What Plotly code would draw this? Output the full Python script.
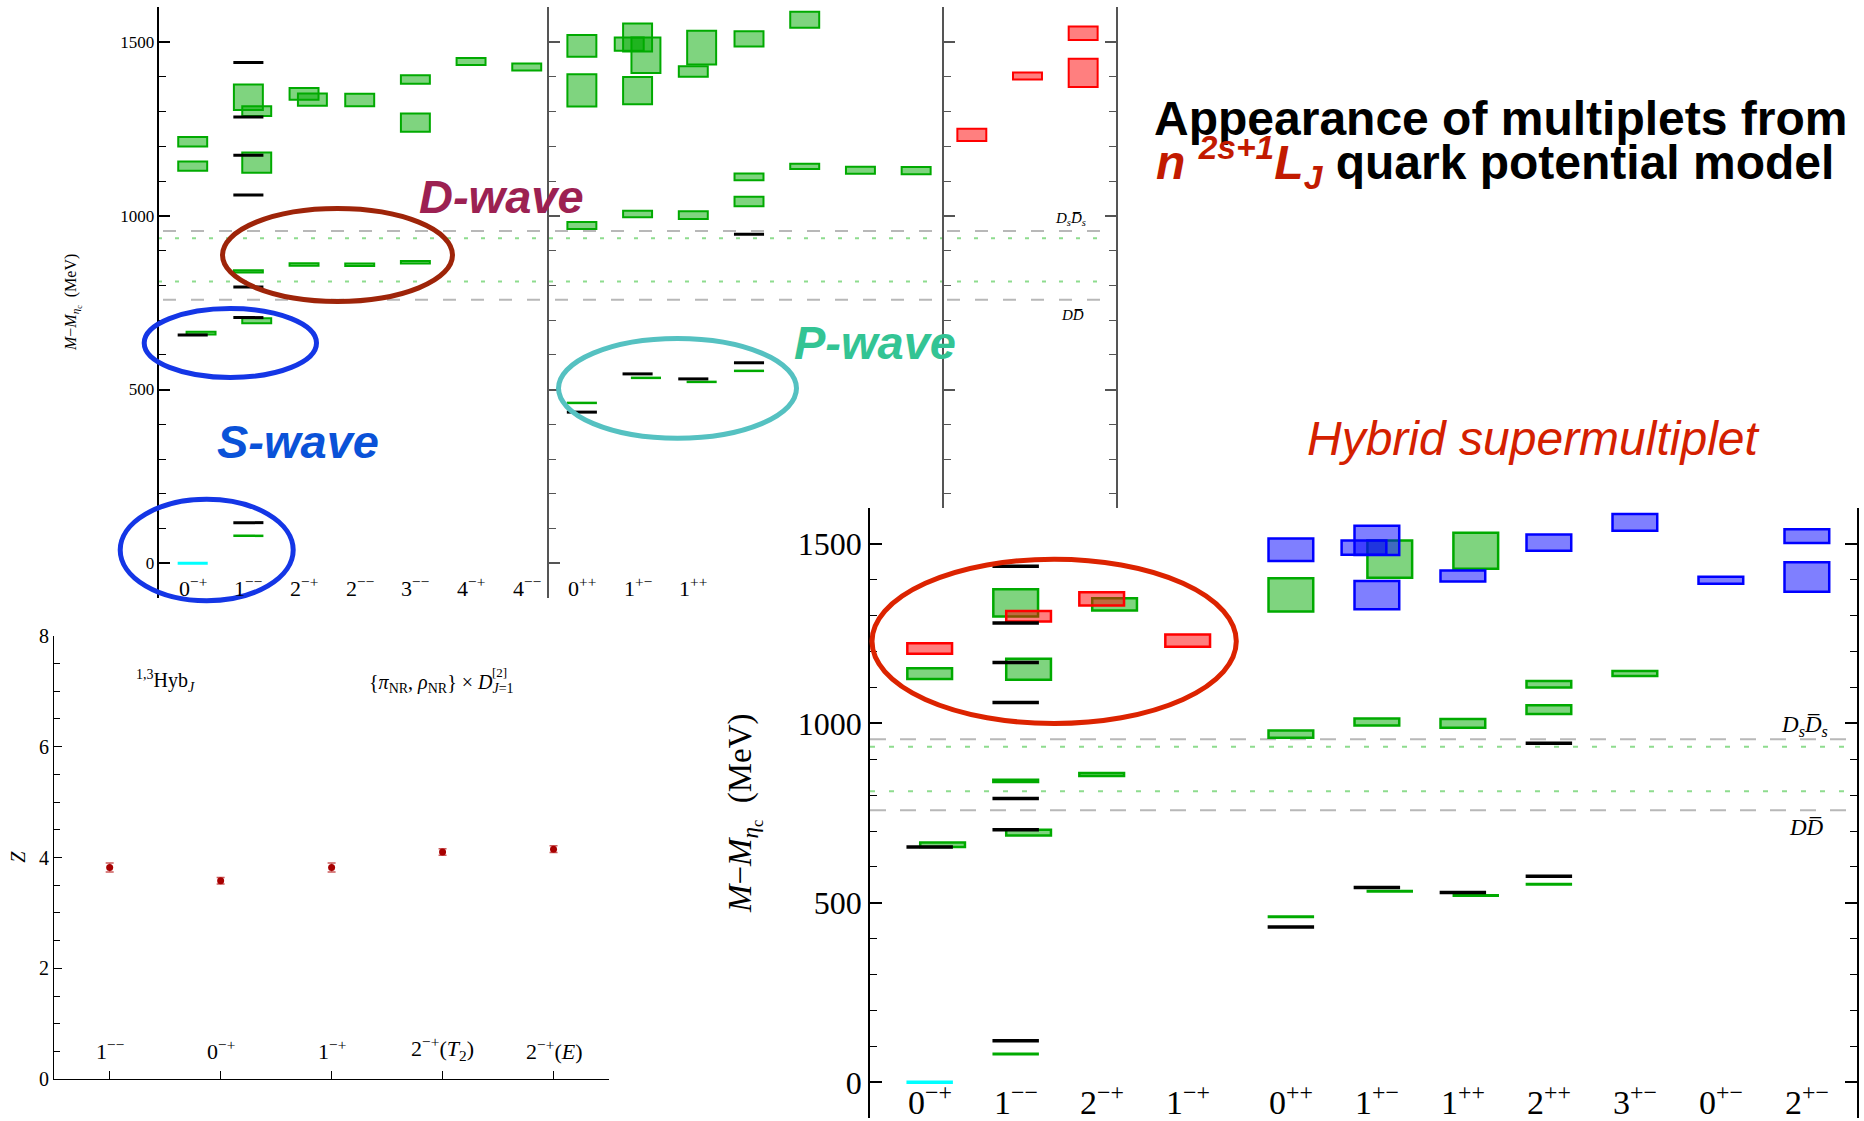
import plotly.graph_objects as go

W, H = 1864, 1121
SERIF = "Liberation Serif, Times New Roman, serif"
SANS = "Liberation Sans, Arial, sans-serif"

# ---------------- data (masses in MeV relative to eta_c) ----------------
# top-left panel: conventional negative-parity charmonium
negp_cats = ["0<sup>−+</sup>", "1<sup>−−</sup>", "2<sup>−+</sup>", "2<sup>−−</sup>",
             "3<sup>−−</sup>", "4<sup>−+</sup>", "4<sup>−−</sup>"]
negp_box_pos = [1, 1, 1.15, 2, 2.15, 2.15, 2, 2.15, 3, 3.15, 3, 4, 4, 5, 5, 5, 6, 7]
negp_box_mass = [1213, 1143, 662, 1341, 1301, 1153, 840, 698, 1351, 1334, 860,
                 1333, 859, 1392, 1268, 866, 1444, 1428]
negp_box_err = [13.5, 13.5, 4, 37, 14, 29, 3, 7, 17, 17.5, 3.5,
                18, 3.5, 12, 26.5, 3.5, 10, 10]
negp_line_pos = [2]
negp_line_mass = [79]
negp_exp_pos = [1, 2, 2, 2, 2, 2, 2, 2]
negp_exp_mass = [657, 1441, 1284, 1174, 1060, 795, 707, 117]
negp_ref_pos = [1]
negp_ref_mass = [0]

# top-middle panel: positive-parity charmonium
posp_cats = ["0<sup>++</sup>", "1<sup>+−</sup>", "1<sup>++</sup>"]
posp_box_pos = [1, 1, 1, 2, 1.85, 2.15, 2, 2, 3.15, 3, 3, 4, 4, 4, 5, 5, 6, 7]
posp_box_mass = [1489, 1361, 972, 1513, 1494, 1462, 1360, 1005, 1484, 1415, 1002,
                 1509, 1112, 1041, 1564, 1142, 1131, 1130]
posp_box_err = [31.5, 46.5, 10, 40.5, 19, 51, 39, 9.5, 48.5, 15, 11,
                22, 9.5, 13.5, 23, 7.5, 10, 10.5]
posp_line_pos = [1, 2.15, 3.15, 4]
posp_line_mass = [461.5, 533.6, 522, 553.7]
posp_exp_pos = [1, 2, 3, 4, 4]
posp_exp_mass = [435, 545, 530.6, 947, 577]

# top-right panel: exotic quantum numbers
exo_box_pos = [1, 2, 3, 3]
exo_box_mass = [1233, 1402, 1525, 1411]
exo_box_err = [17.5, 10, 19.5, 40.5]

# open-charm thresholds
thr_open = [956, 758]          # Ds Ds-bar, D D-bar
thr_model = [935, 811]

# bottom-right panel: full spectrum with hybrid supermultiplet
hyb_cats = ["0<sup>−+</sup>", "1<sup>−−</sup>", "2<sup>−+</sup>", "1<sup>−+</sup>",
            "0<sup>++</sup>", "1<sup>+−</sup>", "1<sup>++</sup>", "2<sup>++</sup>",
            "3<sup>+−</sup>", "0<sup>+−</sup>", "2<sup>+−</sup>"]
hyb_cat_pos = [1, 2, 3, 4, 5.2, 6.2, 7.2, 8.2, 9.2, 10.2, 11.2]

hyb_green_cat = [0, 0, 1, 1, 1, 1, 2, 2, 4, 4, 5, 5, 6, 6, 7, 7, 8]
hyb_green_shift = [0, .15, 0, .15, 0, .15, .15, 0, 0, 0, .15, 0, .15, 0, 0, 0, 0]
hyb_green_mass = [1139, 662, 1336, 1151, 840, 696, 1332, 857.6, 1358, 970,
                  1458, 1004, 1481, 1000, 1109, 1038.5, 1139]
hyb_green_err = [15, 6, 38, 29, 3, 8, 17, 4, 46.4, 10, 52, 10, 50, 12, 9, 12.5, 7]

hyb_gline_cat = [1, 4, 5, 6, 7]
hyb_gline_shift = [0, 0, .15, .15, 0]
hyb_gline_mass = [79, 461, 532.4, 520.4, 552]

hyb_red_cat = [0, 1, 2, 3]
hyb_red_shift = [0, .15, 0, 0]
hyb_red_mass = [1209, 1298.5, 1347, 1231]
hyb_red_err = [14.7, 14.5, 18.5, 17]

hyb_blue_cat = [4, 5, 5, 5, 6, 7, 8, 9, 10, 10]
hyb_blue_shift = [0, 0, -.15, 0, 0, 0, 0, 0, 0, 0]
hyb_blue_mass = [1484, 1510, 1490, 1357.5, 1411, 1504, 1560, 1399, 1522, 1408]
hyb_blue_err = [31.5, 40.7, 20, 39.5, 15.3, 22.6, 23.3, 10, 19, 41]

hyb_exp_cat = [0, 1, 1, 1, 1, 1, 1, 1, 4, 5, 6, 7, 7]
hyb_exp_mass = [656, 1438, 1280, 1170, 1058, 791, 704, 116, 433, 542.6, 528.8, 945, 574]
hyb_ref_cat = [0]
hyb_ref_mass = [0]

mass_ticks = [0, 500, 1000, 1500]

# bottom-left panel: operator overlaps
z_cats = ["1<sup>−−</sup>", "0<sup>−+</sup>", "1<sup>−+</sup>",
          "2<sup>−+</sup>(<i>T</i><sub>2</sub>)", "2<sup>−+</sup>(<i>E</i>)"]
z_vals = [3.82, 3.58, 3.82, 4.10, 4.15]
z_errs = [0.08, 0.06, 0.08, 0.06, 0.06]
z_ticks = [0, 2, 4, 6, 8]

# ---------------- helpers ----------------
def dom_x(a, b):
    return [a / W, b / W]


def dom_y(top, bottom):
    return [1 - bottom / H, 1 - top / H]


def px(x):
    return x / W


def py(y):
    return 1 - y / H


GREEN = ("rgba(0,170,0,0.5)", "#00aa00")
RED = ("rgba(255,0,0,0.5)", "#ff0000")
BLUE = ("rgba(0,0,255,0.5)", "#0000ff")


def boxes(pos, mass, err, col, xa, ya, lw):
    return go.Bar(x=pos, y=[2 * e for e in err], base=[m - e for m, e in zip(mass, err)],
                  width=0.52, marker=dict(color=col[0], line=dict(color=col[1], width=lw)),
                  xaxis=xa, yaxis=ya, showlegend=False, hoverinfo="skip")


def levels(pos, mass, color, xa, ya, lw, half=0.27):
    xs, ys = [], []
    for p, m in zip(pos, mass):
        xs += [p - half, p + half, None]
        ys += [m, m, None]
    return go.Scatter(x=xs, y=ys, mode="lines", line=dict(color=color, width=lw),
                      xaxis=xa, yaxis=ya, showlegend=False, hoverinfo="skip")


def hpos(cats, shifts):
    return [hyb_cat_pos[c] + s for c, s in zip(cats, shifts)]


fig = go.Figure()

# top-left
fig.add_trace(boxes(negp_box_pos, negp_box_mass, negp_box_err, GREEN, "x", "y", 2))
fig.add_trace(levels(negp_line_pos, negp_line_mass, "#00aa00", "x", "y", 2.5))
fig.add_trace(levels(negp_ref_pos, negp_ref_mass, "#00ffff", "x", "y", 3))
fig.add_trace(levels(negp_exp_pos, negp_exp_mass, "black", "x", "y", 3))
# top-middle
fig.add_trace(boxes(posp_box_pos, posp_box_mass, posp_box_err, GREEN, "x2", "y2", 2))
fig.add_trace(levels(posp_line_pos, posp_line_mass, "#00aa00", "x2", "y2", 2.5))
fig.add_trace(levels(posp_exp_pos, posp_exp_mass, "black", "x2", "y2", 3))
# top-right
fig.add_trace(boxes(exo_box_pos, exo_box_mass, exo_box_err, RED, "x3", "y3", 2))

# bottom-left
fig.add_trace(go.Scatter(x=list(range(1, len(z_vals) + 1)), y=z_vals, mode="markers",
                         marker=dict(color="#a80000", size=7),
                         error_y=dict(type="data", array=z_errs, color="rgba(190,50,50,0.8)",
                                      thickness=1.5, width=4),
                         xaxis="x4", yaxis="y4", showlegend=False, hoverinfo="skip"))

# bottom-right
fig.add_trace(boxes(hpos(hyb_green_cat, hyb_green_shift), hyb_green_mass, hyb_green_err,
                    GREEN, "x5", "y5", 2.5))
fig.add_trace(boxes(hpos(hyb_blue_cat, hyb_blue_shift), hyb_blue_mass, hyb_blue_err,
                    BLUE, "x5", "y5", 2.5))
fig.add_trace(boxes(hpos(hyb_red_cat, hyb_red_shift), hyb_red_mass, hyb_red_err,
                    RED, "x5", "y5", 2.5))
fig.add_trace(levels(hpos(hyb_gline_cat, hyb_gline_shift), hyb_gline_mass, "#00aa00",
                     "x5", "y5", 3))
fig.add_trace(levels(hpos(hyb_ref_cat, [0]), hyb_ref_mass, "#00ffff", "x5", "y5", 3.5))
fig.add_trace(levels(hpos(hyb_exp_cat, [0] * len(hyb_exp_cat)), hyb_exp_mass, "black",
                     "x5", "y5", 3.5))

# ---------------- axes ----------------
noax = dict(showline=False, showticklabels=False, ticks="", showgrid=False, zeroline=False,
            automargin=False)


def mass_axis(top, bottom, rng, anchor, color, labels, size, ticklen, minorlen, mirror=False):
    return dict(domain=dom_y(top, bottom), range=rng, anchor=anchor, automargin=False,
                showline=True, linecolor=color, linewidth=1.5, mirror=mirror,
                ticks="inside", tickmode="array", tickvals=mass_ticks, ticklen=ticklen,
                tickwidth=1.5, tickcolor=color,
                minor=dict(tickmode="linear", tick0=-100, dtick=100, ticks="inside",
                           ticklen=minorlen, tickwidth=1.2, tickcolor=color, showgrid=False),
                showticklabels=labels, showgrid=False, zeroline=False,
                tickfont=dict(family=SERIF, size=size, color="black"))


fig.update_layout(
    width=W, height=H, autosize=False,
    margin=dict(l=0, r=0, t=0, b=0, pad=0, autoexpand=False),
    plot_bgcolor="rgba(0,0,0,0)", paper_bgcolor="white", barmode="overlay", showlegend=False,
    xaxis=dict(domain=dom_x(159.3, 549), range=[0.4, 7.4], anchor="y", **noax),
    yaxis=mass_axis(7.25, 598.05, [-100, 1600], "x", "black", True, 17, 11, 7),
    xaxis2=dict(domain=dom_x(549, 944), range=[0.41, 7.5], anchor="y2", **noax),
    yaxis2=mass_axis(7.25, 598.05, [-100, 1600], "x2", "#555555", False, 17, 11, 7),
    xaxis3=dict(domain=dom_x(944, 1116), range=[0.5, 3.59], anchor="y3", **noax),
    yaxis3=mass_axis(7.25, 507.7, [160, 1600], "x3", "#555555", False, 17, 11, 7, "ticks"),
    xaxis4=dict(domain=dom_x(54.2, 609), range=[0.5, 5.5], anchor="y4", showline=True,
                linecolor="black", linewidth=1.2, ticks="inside", tickvals=[1, 2, 3, 4, 5],
                ticklen=8, tickcolor="black", showticklabels=False, showgrid=False,
                zeroline=False, automargin=False),
    yaxis4=dict(domain=dom_y(635.7, 1079.3), range=[0, 8], anchor="x4", showline=True,
                linecolor="black", linewidth=1.2, ticks="inside", tickvals=z_ticks,
                ticklen=8, tickcolor="black", automargin=False,
                minor=dict(tickmode="linear", tick0=0, dtick=0.5, ticks="inside", ticklen=6,
                           tickcolor="black"),
                showgrid=False, zeroline=False,
                tickfont=dict(family=SERIF, size=20, color="black")),
    xaxis5=dict(domain=dom_x(870, 1857), range=[0.306, 11.783], anchor="y5", **noax),
    yaxis5=mass_axis(508.1, 1118.2, [-100, 1600], "x5", "black", True, 32, 12, 7, "ticks"),
)

# ---------------- thresholds ----------------
shapes = []
for m in thr_open:
    shapes.append(dict(type="line", xref="paper", yref="y", x0=px(163), x1=px(1107), y0=m, y1=m,
                       line=dict(color="#b8b8b8", width=2, dash="13px,15px"), layer="below"))
    shapes.append(dict(type="line", xref="x5 domain", yref="y5", x0=0, x1=1, y0=m, y1=m,
                       line=dict(color="#b8b8b8", width=2, dash="16px,14px"), layer="below"))
for m in thr_model:
    shapes.append(dict(type="line", xref="paper", yref="y", x0=px(158), x1=px(1107), y0=m, y1=m,
                       line=dict(color="#8edc8e", width=2, dash="4px,13px"), layer="below"))
    shapes.append(dict(type="line", xref="x5 domain", yref="y5", x0=0, x1=1, y0=m, y1=m,
                       line=dict(color="#8edc8e", width=2, dash="5px,14px"), layer="below"))


# highlight ellipses
def ellipse(x0, y0, x1, y1, color, w):
    h = w / 2
    return dict(type="circle", xref="paper", yref="paper", x0=px(x0 + h), x1=px(x1 - h),
                y0=py(y1 - h), y1=py(y0 + h), line=dict(color=color, width=w), layer="above")


shapes += [
    ellipse(220, 206, 455, 304, "#9e2409", 5),
    ellipse(141.7, 306, 319, 380, "#1436e6", 5),
    ellipse(117.7, 496.7, 295.7, 603.3, "#1436e6", 5),
    ellipse(556, 336, 799, 440.7, "#55c1c1", 5),
    ellipse(869.5, 556.7, 1238.8, 726, "#dc2300", 5),
]
fig.update_layout(shapes=shapes)

# ---------------- text ----------------
ann = []


def text(x, y, s, size, color="black", family=SANS, xanchor="center", yanchor="middle",
         angle=0):
    ann.append(dict(x=px(x), y=py(y), xref="paper", yref="paper", text=s, showarrow=False,
                    xanchor=xanchor, yanchor=yanchor, textangle=angle,
                    font=dict(family=family, size=size, color=color)))


text(1152, 118, "<b>Appearance of multiplets from</b>", 48, xanchor="left")
text(1154, 163, '<span style="color:#c21a00"><b><i>n <sup>2s+1</sup>L<sub>J</sub></i></b></span>'
     '<b> quark potential model</b>', 48, xanchor="left")
text(1533, 438, "<i>Hybrid supermultiplet</i>", 48, color="#d42000")
text(501, 196, "<b><i>D-wave</i></b>", 47, color="#9c2152")
text(298, 441, "<b><i>S-wave</i></b>", 47, color="#0a52d8")
text(875, 342, "<b><i>P-wave</i></b>", 47, color="#33c494")

text(73, 303, "<i>M</i>−<i>M</i><sub><i>η</i><sub>c</sub></sub>  (MeV)", 16, family=SERIF,
     angle=-90)
text(744, 813, "<i>M</i>−<i>M</i><sub><i>η</i><sub>c</sub></sub>  (MeV)", 33, family=SERIF,
     angle=-90)

text(1070, 219, "<i>D<sub>s</sub>D\u0305<sub>s</sub></i>", 15, family=SERIF)
text(1072, 315, "<i>DD\u0305</i>", 15, family=SERIF)
text(1804, 726, "<i>D<sub>s</sub>D\u0305<sub>s</sub></i>", 23, family=SERIF)
text(1806, 827, "<i>DD\u0305</i>", 23, family=SERIF)

text(17.8, 857, "<i>Z</i>", 20, family=SERIF, angle=-90)
text(134, 681, "<sup>1,3</sup>Hyb<sub><i>J</i></sub>", 20, family=SERIF, xanchor="left")
text(367, 683, "{<i>π</i><sub>NR</sub>, <i>ρ</i><sub>NR</sub>} × <i>D</i><sub><i>J</i>=1</sub>",
     20, family=SERIF, xanchor="left")
text(500, 672, "[2]", 13, family=SERIF)

# category labels drawn through each panel's x scale
for i, lab in enumerate(negp_cats):
    ann.append(dict(x=i + 1, y=py(587), xref="x", yref="paper", text=lab, showarrow=False,
                    font=dict(family=SERIF, size=22, color="black")))
for i, lab in enumerate(posp_cats):
    ann.append(dict(x=i + 1, y=py(587), xref="x2", yref="paper", text=lab, showarrow=False,
                    font=dict(family=SERIF, size=22, color="black")))
for p, lab in zip(hyb_cat_pos, hyb_cats):
    ann.append(dict(x=p, y=py(1123), xref="x5", yref="paper", text=lab, showarrow=False,
                    font=dict(family=SERIF, size=34, color="black")))
for i, lab in enumerate(z_cats):
    ann.append(dict(x=i + 1, y=py(1066), xref="x4", yref="paper", text=lab, showarrow=False,
                    font=dict(family=SERIF, size=22, color="black")))

fig.update_layout(annotations=ann)
fig.write_html("out.html")
